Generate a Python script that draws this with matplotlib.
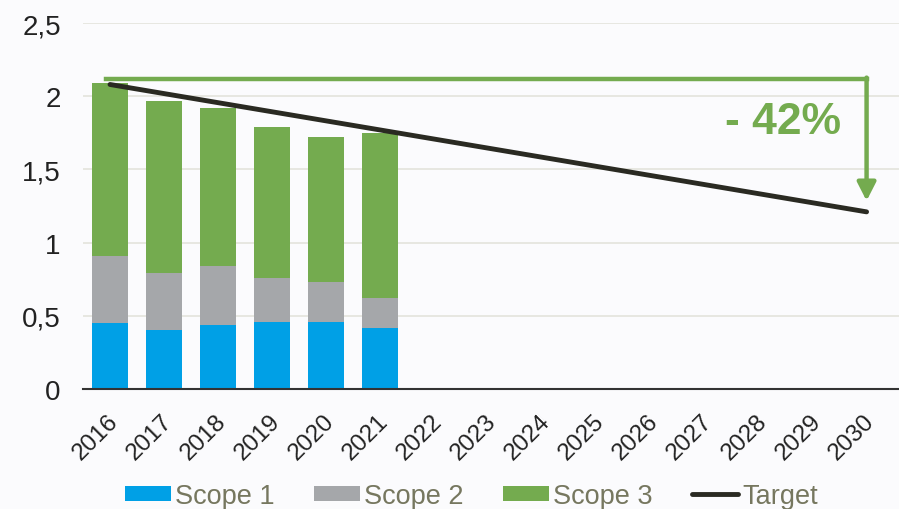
import matplotlib.pyplot as plt
import matplotlib.transforms as mtransforms
import numpy as np

plt.rcParams['font.family'] = ['Liberation Sans', 'DejaVu Sans']

# data
years = [str(y) for y in range(2016, 2031)]
bar_years = ['2016', '2017', '2018', '2019', '2020', '2021']
scope1 = [0.45, 0.40, 0.44, 0.46, 0.46, 0.42]
scope2 = [0.46, 0.39, 0.40, 0.30, 0.27, 0.20]
scope3 = [1.18, 1.18, 1.08, 1.03, 0.99, 1.13]
target_years = ['2016', '2030']
target_values = [2.08, 1.21]
y_ticks = [0, 0.5, 1, 1.5, 2, 2.5]
y_tick_labels = ['0', '0,5', '1', '1,5', '2', '2,5']

c_blue = '#00A0E6'
c_gray = '#A5A7AA'
c_green = '#74AB4F'
c_line = '#2A2A22'

fig = plt.figure(figsize=(8.99, 5.10), dpi=100, facecolor='#FBFBFD')
ax = fig.add_axes([83 / 899, 120 / 510, 1 - 83 / 899, 366 / 510])
ax.set_facecolor('#FBFBFD')

x_pos = {y: i for i, y in enumerate(years)}
bx = np.array([x_pos[y] for y in bar_years])
s1 = np.array(scope1)
s2 = np.array(scope2)
s3 = np.array(scope3)

w = 0.667
b1 = ax.bar(bx, s1, width=w, color=c_blue, label='Scope 1', zorder=2)
b2 = ax.bar(bx, s2, width=w, bottom=s1, color=c_gray, label='Scope 2', zorder=2)
b3 = ax.bar(bx, s3, width=w, bottom=s1 + s2, color=c_green, label='Scope 3', zorder=2)

tx = [x_pos[y] for y in target_years]
ln, = ax.plot(tx, target_values, color=c_line, lw=3.5, solid_capstyle='round',
              label='Target', zorder=4)

# green bracket with arrow
top = 2.117
ax.plot([-0.07, 14.0], [top, top], color=c_green, lw=3.2,
        solid_capstyle='projecting', zorder=3)
ax.annotate('', xy=(14.0, 1.285), xytext=(14.0, top + 0.01),
            arrowprops=dict(arrowstyle='-|>,head_length=0.55,head_width=0.28',
                            color=c_green, lw=3.2, shrinkA=0, shrinkB=0,
                            mutation_scale=20),
            zorder=3)
ax.text(12.45, 1.83, '- 42%', color=c_green, fontsize=32, fontweight='bold',
        ha='center', va='center', zorder=5)

ax.set_xlim(-0.5, 14.6)
ax.set_ylim(0, 2.5)
ax.set_yticks(y_ticks)
ax.set_yticklabels(y_tick_labels, fontsize=20, color='#222222')
ax.set_xticks(range(len(years)))
ax.set_xticklabels(years, fontsize=17.5, rotation=45, ha='right',
                   rotation_mode='anchor', color='#222222')
ax.tick_params(length=0)
ax.tick_params(axis='y', pad=16)
ax.tick_params(axis='x', pad=15)
shift = mtransforms.ScaledTranslation(-3 / 100, 0, fig.dpi_scale_trans)
for lab in ax.get_xticklabels():
    lab.set_transform(lab.get_transform() + shift)
ax.grid(axis='y', color='#E3E3DC', lw=1.2, zorder=0)
ax.set_axisbelow(True)
for side in ['left', 'right', 'top']:
    ax.spines[side].set_visible(False)
ax.spines['bottom'].set_color('#333333')
ax.spines['bottom'].set_linewidth(1.5)

leg = fig.legend([b1, b2, b3, ln], ['Scope 1', 'Scope 2', 'Scope 3', 'Target'],
                 loc='center', bbox_to_anchor=(0.5245, 13 / 510), ncol=4,
                 frameon=False, fontsize=19.5, handlelength=1.7,
                 handleheight=0.52, handletextpad=0.15, columnspacing=1.45,
                 borderpad=0, borderaxespad=0)
for t in leg.get_texts():
    t.set_color('#76775F')

fig.savefig('out.png', dpi=100, facecolor=fig.get_facecolor())
